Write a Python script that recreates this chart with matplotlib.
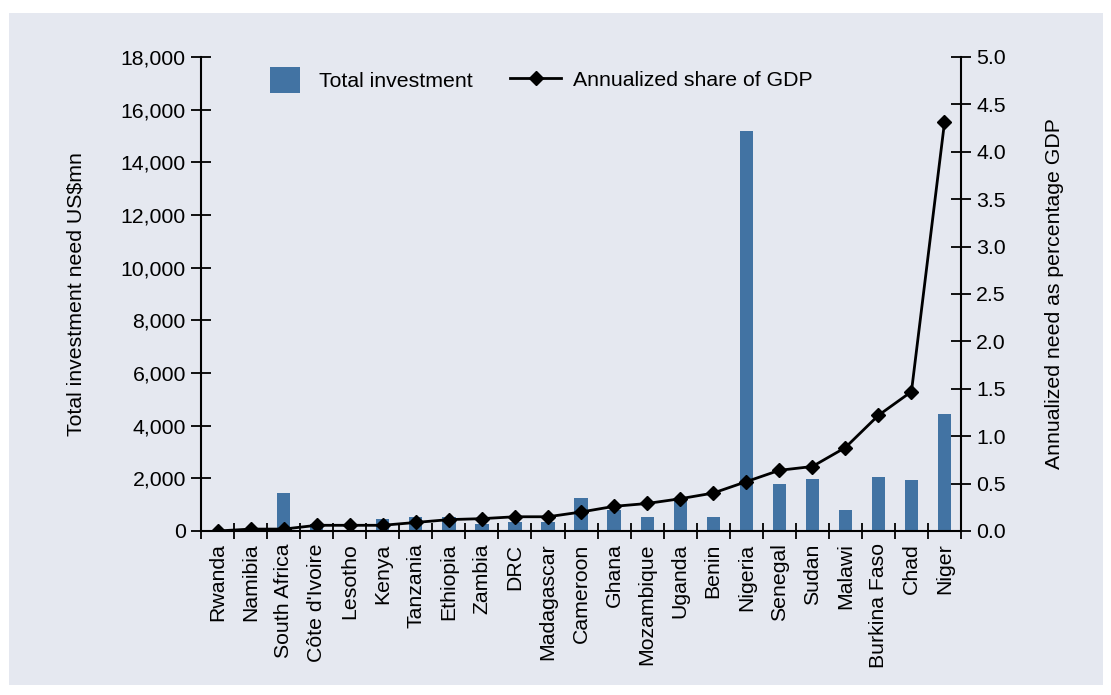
import numpy as np
import matplotlib.pyplot as plt
from matplotlib.patches import Rectangle
from matplotlib.lines import Line2D
from matplotlib.ticker import FuncFormatter, FixedLocator

plt.rcParams['font.family'] = ['Liberation Sans', 'DejaVu Sans']

countries = ['Rwanda', 'Namibia', 'South Africa', "Côte d'Ivoire", 'Lesotho', 'Kenya',
             'Tanzania', 'Ethiopia', 'Zambia', 'DRC', 'Madagascar', 'Cameroon', 'Ghana',
             'Mozambique', 'Uganda', 'Benin', 'Nigeria', 'Senegal', 'Sudan', 'Malawi',
             'Burkina Faso', 'Chad', 'Niger']
investment = [10, 20, 1440, 280, 30, 450, 530, 530, 270, 340, 340, 1260, 800,
              545, 1260, 545, 15200, 1790, 1980, 800, 2050, 1940, 4450]
gdp_share = [0.0, 0.02, 0.02, 0.06, 0.06, 0.06, 0.09, 0.12, 0.13, 0.15, 0.15, 0.20,
             0.26, 0.29, 0.34, 0.40, 0.52, 0.64, 0.68, 0.88, 1.22, 1.47, 4.31]

panel_color = '#E5E8F0'
bar_color = '#4273A3'
fs = 15.3

fig = plt.figure(figsize=(11.11, 6.95), dpi=100)
fig.patch.set_facecolor('white')
bg = fig.add_axes([9 / 1111, 1 - 685 / 695, 1094 / 1111, 672 / 695], zorder=-10)
bg.set_facecolor(panel_color)
bg.set_xticks([])
bg.set_yticks([])
for s in bg.spines.values():
    s.set_visible(False)

ax = fig.add_axes([0.181, 0.236, 0.684, 0.682])
ax.set_facecolor('none')
x = np.arange(len(countries))
ax.bar(x, investment, width=0.4, color=bar_color, zorder=2)
ax.set_xlim(-0.5, len(countries) - 0.5)
ax.set_ylim(0, 18000)
ax.set_yticks(np.arange(0, 18001, 2000))
ax.yaxis.set_major_formatter(FuncFormatter(lambda v, p: f'{int(v):,}'))
ax.set_ylabel('Total investment need US$mn', fontsize=fs, labelpad=25)

# boundary ticks on x, labels at category centres
ax.xaxis.set_major_locator(FixedLocator(np.arange(-0.5, len(countries), 1.0)))
ax.xaxis.set_major_formatter(FuncFormatter(lambda v, p: ''))
ax.xaxis.set_minor_locator(FixedLocator(x))
ax.set_xticklabels(countries, minor=True, rotation=90, fontsize=fs)
ax.tick_params(axis='x', which='major', direction='inout', length=11, width=1.3)
ax.tick_params(axis='x', which='minor', length=0, pad=9)
ax.tick_params(axis='y', direction='inout', length=14, width=1.3, labelsize=fs, pad=4)

for s in ['top', 'right']:
    ax.spines[s].set_visible(False)
for s in ['left', 'bottom']:
    ax.spines[s].set_linewidth(1.5)

ax2 = ax.twinx()
ax2.plot(x, gdp_share, color='black', lw=2, marker='D', ms=7, zorder=3)
ax2.set_ylim(0, 5)
ax2.set_yticks(np.arange(0, 5.01, 0.5))
ax2.yaxis.set_major_formatter(FuncFormatter(lambda v, p: f'{v:.1f}'))
ax2.tick_params(axis='y', direction='inout', length=14, width=1.3, labelsize=fs, pad=4)
ax2.set_ylabel('Annualized need as percentage GDP', fontsize=fs, labelpad=28)
for s in ['top', 'left', 'bottom']:
    ax2.spines[s].set_visible(False)
ax2.spines['right'].set_linewidth(1.5)

h1 = Rectangle((0, 0), 1, 1, facecolor=bar_color)
h2 = Line2D([], [], color='black', lw=2, marker='D', ms=7)
leg1 = fig.legend([h1], ['Total investment'], loc='center left',
                  bbox_to_anchor=(251 / 1111, 1 - 80 / 695), frameon=False, fontsize=fs,
                  handlelength=1.4, handleheight=1.5, handletextpad=0.9)
leg2 = fig.legend([h2], ['Annualized share of GDP'], loc='center left',
                  bbox_to_anchor=(491 / 1111, 1 - 80 / 695), frameon=False, fontsize=fs,
                  handlelength=2.4, handletextpad=0.55)

fig.savefig('out.png', dpi=100, facecolor='white')
